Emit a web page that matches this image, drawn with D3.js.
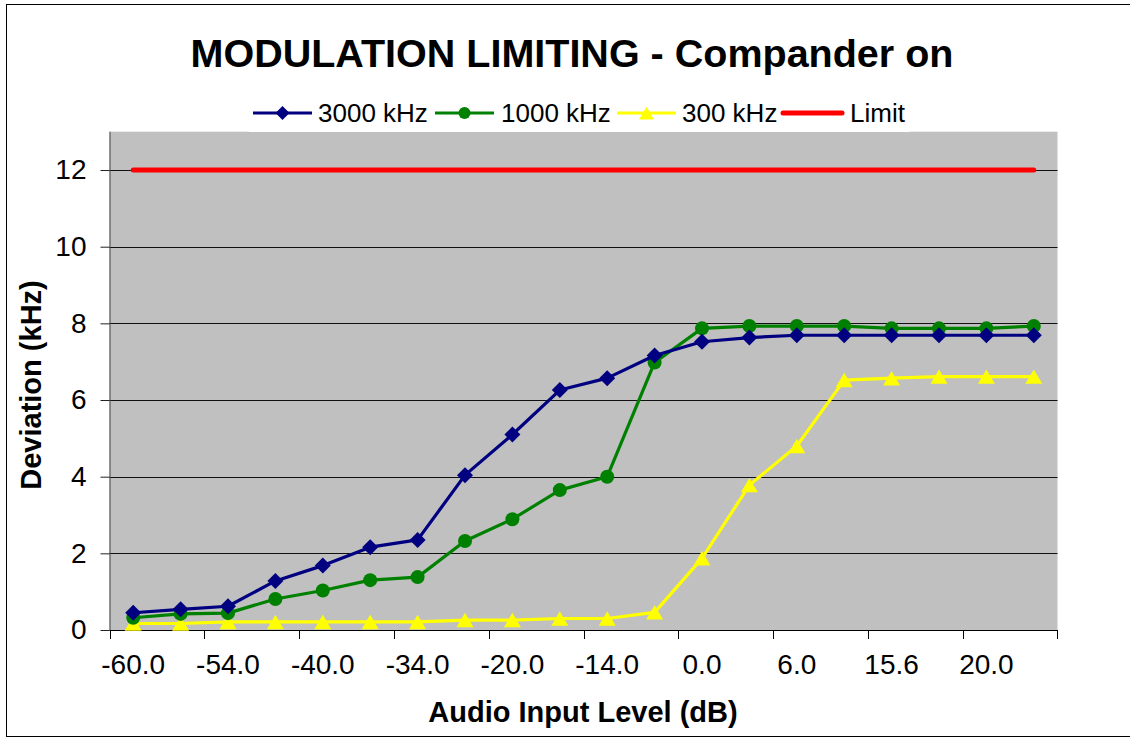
<!DOCTYPE html>
<html>
<head>
<meta charset="utf-8">
<script src="https://cdn.jsdelivr.net/npm/d3@7"></script>
<style>
  html, body { margin: 0; padding: 0; background: #fff; }
  svg { display: block; font-family: "Liberation Sans", Arial, sans-serif; }
</style>
</head>
<body>
<svg id="chart" width="1130" height="738"></svg>
<script>
// ---- data ----
const categories = ["-60.0","-57.0","-54.0","-47.0","-40.0","-37.0","-34.0","-27.0","-20.0","-17.0",
                    "-14.0","-7.0","0.0","3.0","6.0","10.0","15.6","18.0","20.0","24.0"];
const s3000 = [0.45,0.54,0.62,1.28,1.68,2.16,2.35,4.04,5.10,6.26,6.57,7.16,7.52,7.63,7.69,7.69,7.69,7.69,7.69,7.69];
const s1000 = [0.32,0.42,0.44,0.81,1.03,1.30,1.38,2.32,2.89,3.65,4.00,6.98,7.87,7.93,7.93,7.93,7.87,7.87,7.87,7.93];
const s300  = [0.17,0.17,0.21,0.21,0.21,0.21,0.21,0.26,0.26,0.30,0.30,0.46,1.87,3.78,4.80,6.52,6.57,6.61,6.61,6.61];
const sLimit = [12,12,12,12,12,12,12,12,12,12,12,12,12,12,12,12,12,12,12,12];
const yTicks = [0,2,4,6,8,10,12];
const seriesNames = ["3000 kHz","1000 kHz","300 kHz","Limit"];
const title = "MODULATION LIMITING - Compander on";
const xTitle = "Audio Input Level (dB)";
const yTitle = "Deviation (kHz)";

// ---- layout ----
const svg = d3.select("#chart");
const L = 109.5, R = 1057.5, T = 131.7, B = 630;

// outer chart border
svg.append("rect").attr("x", 6.5).attr("y", 4.5).attr("width", 1140).attr("height", 732)
  .attr("fill", "#fff").attr("stroke", "#000").attr("stroke-width", 1);

const x = d3.scaleBand().domain(categories).range([L, R]).padding(0);
const y = d3.scaleLinear().domain([0, 13]).range([B, T]);
const cx = c => x(c) + x.bandwidth() / 2;

// plot area
svg.append("rect").attr("x", L).attr("y", T).attr("width", R - L).attr("height", B - T).attr("fill", "#C0C0C0");

// gridlines
svg.append("g").selectAll("line").data(yTicks.filter(t => t > 0)).join("line")
  .attr("x1", L).attr("x2", R).attr("y1", d => Math.round(y(d)) + 0.5).attr("y2", d => Math.round(y(d)) + 0.5)
  .attr("stroke", "#111").attr("stroke-width", 1);

// y axis
const yAxis = d3.axisLeft(y).tickValues(yTicks).tickSize(9).tickPadding(14).tickFormat(d3.format("d"));
const gy = svg.append("g").attr("transform", `translate(${L},0)`).call(yAxis);
gy.select(".domain").attr("d", `M0.5,${T}V${B}`).attr("stroke", "#444");
gy.selectAll(".tick line").attr("stroke", "#222");
gy.selectAll(".tick text").attr("font-size", 28).attr("font-family", "Liberation Sans, Arial, sans-serif").attr("fill", "#000");

// x axis: ticks every two categories at band boundaries, labels at every other category
const xg = svg.append("g");
xg.append("line").attr("x1", L).attr("x2", R).attr("y1", B + 0.5).attr("y2", B + 0.5).attr("stroke", "#000");
const tickCats = categories.filter((c, i) => i % 2 === 0);
xg.selectAll("line.tk").data(tickCats.concat(["__end"])).join("line").attr("class", "tk")
  .attr("x1", d => d === "__end" ? R : Math.round(x(d)) + 0.5)
  .attr("x2", d => d === "__end" ? R : Math.round(x(d)) + 0.5)
  .attr("y1", B).attr("y2", B + 9).attr("stroke", "#000");
xg.selectAll("text").data(tickCats).join("text")
  .attr("x", d => cx(d)).attr("y", 674).attr("text-anchor", "middle")
  .attr("font-size", 28).attr("fill", "#000").text(d => d);

// axis titles
svg.append("text").attr("x", 583).attr("y", 722).attr("text-anchor", "middle")
  .attr("font-size", 29).attr("font-weight", "bold").text(xTitle);
svg.append("text").attr("transform", "translate(41,385) rotate(-90)").attr("text-anchor", "middle")
  .attr("font-size", 29).attr("font-weight", "bold").text(yTitle);

// title
svg.append("text").attr("x", 572).attr("y", 67).attr("text-anchor", "middle")
  .attr("font-size", 39.5).attr("font-weight", "bold").text(title);

// series
const line = d3.line().x((d, i) => cx(categories[i])).y(d => y(d));
const diamond = s => `M0,${-s}L${s},0L0,${s}L${-s},0Z`;
const tri = s => `M0,${-s * 0.85}L${s},${s * 0.85}L${-s},${s * 0.85}Z`;

// limit line
svg.append("path").datum(sLimit).attr("d", line).attr("fill", "none")
  .attr("stroke", "#FF0000").attr("stroke-width", 5).attr("stroke-linecap", "round");

function drawSeries(data, color, marker) {
  const g = svg.append("g");
  g.append("path").datum(data).attr("d", line).attr("fill", "none")
    .attr("stroke", color).attr("stroke-width", 3.2).attr("stroke-linejoin", "round");
  const pts = g.selectAll("g.m").data(data).join("g").attr("class", "m")
    .attr("transform", (d, i) => `translate(${cx(categories[i])},${y(d)})`);
  if (marker === "diamond") pts.append("path").attr("d", diamond(8)).attr("fill", color);
  if (marker === "circle") pts.append("circle").attr("r", 7).attr("fill", color);
  if (marker === "tri") pts.append("path").attr("d", tri(8.5)).attr("fill", color);
}
drawSeries(s300, "#FFFF00", "tri");
drawSeries(s1000, "#008000", "circle");
drawSeries(s3000, "#000080", "diamond");

// legend
const lg = svg.append("g");
lg.append("rect").attr("x", 249).attr("y", 96).attr("width", 661).attr("height", 36).attr("fill", "#fff");
const legendItems = [
  {name: seriesNames[0], color: "#000080", marker: "diamond", x0: 253, tx: 318},
  {name: seriesNames[1], color: "#008000", marker: "circle", x0: 435, tx: 501},
  {name: seriesNames[2], color: "#FFFF00", marker: "tri", x0: 617, tx: 682},
  {name: seriesNames[3], color: "#FF0000", marker: null, x0: 783, tx: 850}
];
const ly = 113;
legendItems.forEach(it => {
  lg.append("line").attr("x1", it.x0).attr("x2", it.x0 + 59).attr("y1", ly).attr("y2", ly)
    .attr("stroke", it.color).attr("stroke-width", it.marker ? 3 : 5).attr("stroke-linecap", it.marker ? "butt" : "round");
  const mg = lg.append("g").attr("transform", `translate(${it.x0 + 29.5},${ly})`);
  if (it.marker === "diamond") mg.append("path").attr("d", diamond(7)).attr("fill", it.color);
  if (it.marker === "circle") mg.append("circle").attr("r", 6).attr("fill", it.color);
  if (it.marker === "tri") mg.append("path").attr("d", tri(7.5)).attr("fill", it.color);
  lg.append("text").attr("x", it.tx).attr("y", ly + 9).attr("font-size", 26).attr("fill", "#000").text(it.name);
});
</script>
</body>
</html>
